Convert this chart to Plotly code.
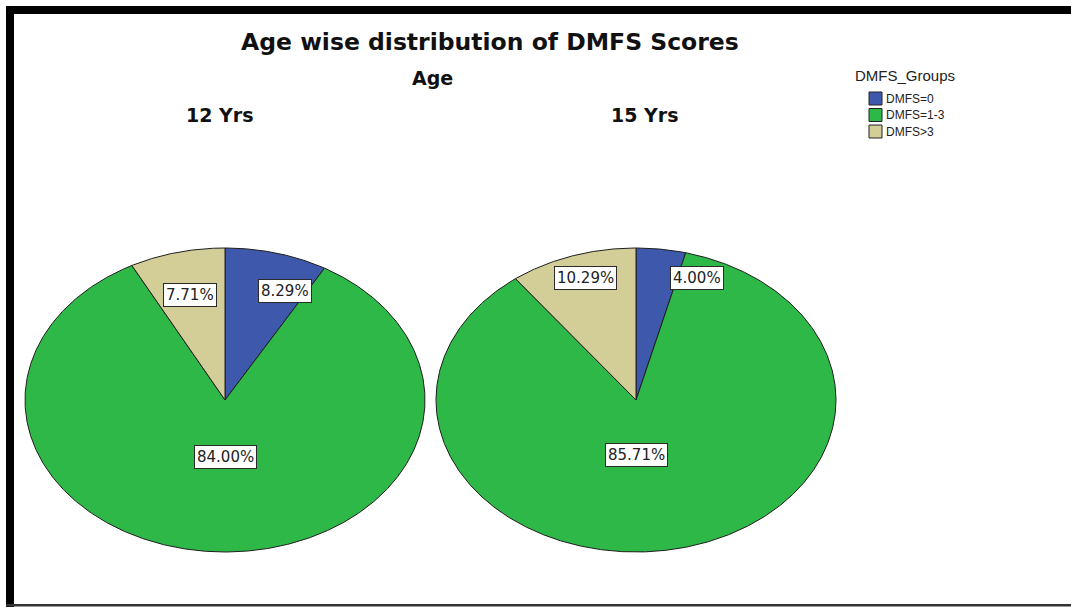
import numpy as np
import plotly.graph_objects as go

# ---- data ----
categories = ["DMFS=0", "DMFS=1-3", "DMFS>3"]
ages = ["12 Yrs", "15 Yrs"]
pct_12 = [8.29, 84.00, 7.71]
pct_15 = [4.00, 85.71, 10.29]
colors = ["#3E58AC", "#2EB848", "#D3CE97"]

# ---- layout (pixel-like coordinates) ----
W, H = 1071, 609
pie_centers = [(225, 400), (636, 400)]
RX, RY = 200, 152
header_dx = [-5, 9]
# label placement tweaks (angle shift in deg from mid-angle, radius fraction)
label_shift = [[7.8, -1.3, -0.3], [13.6, 10.6, 1.2]]
label_rad = [[0.777, 0.375, 0.71], [0.86, 0.36, 0.84]]

FONT = "Liberation Sans, Arial, sans-serif"
WIDE = "DejaVu Sans, Verdana, sans-serif"

fig = go.Figure()
annotations = []

def pt(cx, cy, ang, r=1.0):
    a = np.deg2rad(ang)
    return cx + r * RX * np.sin(a), cy - r * RY * np.cos(a)

for p, vals in enumerate([pct_12, pct_15]):
    cx, cy = pie_centers[p]
    total = sum(vals)
    start = 0.0
    for i, v in enumerate(vals):
        span = v / total * 360.0
        angs = np.linspace(start, start + span, max(int(span * 2), 4))
        xs, ys = pt(cx, cy, angs)
        fig.add_trace(go.Scatter(
            x=np.concatenate([[cx], xs, [cx]]),
            y=np.concatenate([[cy], ys, [cy]]),
            mode="lines", fill="toself", fillcolor=colors[i],
            line=dict(color="#1e1e1e", width=1),
            hoverinfo="skip", showlegend=False))
        mid = start + span / 2 + label_shift[p][i]
        lx, ly = pt(cx, cy, mid, label_rad[p][i])
        annotations.append(dict(
            x=lx, y=ly, xref="x", yref="y", text=f"{v:.2f}%", showarrow=False,
            font=dict(family=WIDE, size=15, color="#222"),
            bgcolor="white", bordercolor="#2a2a2a", borderwidth=1, borderpad=2))
        start += span
    annotations.append(dict(
        x=cx + header_dx[p], y=115, xref="x", yref="y", text=f"<b>{ages[p]}</b>", showarrow=False,
        font=dict(family=WIDE, size=19, color="#111")))

annotations.append(dict(x=490, y=42, xref="x", yref="y",
                        text="<b>Age wise distribution of DMFS Scores</b>", showarrow=False,
                        font=dict(family=WIDE, size=23.5, color="#111")))
annotations.append(dict(x=432, y=78, xref="x", yref="y", text="<b>Age</b>", showarrow=False,
                        font=dict(family=WIDE, size=19, color="#111")))

# legend (manual)
shapes = []
annotations.append(dict(x=905, y=75, xref="x", yref="y", text="DMFS_Groups", showarrow=False,
                        font=dict(family=FONT, size=15, color="#222")))
for i, c in enumerate(categories):
    y0 = 92 + i * 16.5
    shapes.append(dict(type="rect", xref="x", yref="y", x0=869, x1=882, y0=y0, y1=y0 + 13,
                       fillcolor=colors[i], line=dict(color="#222", width=1)))
    annotations.append(dict(x=884, y=y0 + 6.5, xref="x", yref="y", text=c, showarrow=False,
                            xanchor="left", font=dict(family=FONT, size=12, color="#222")))

# border frame
shapes += [
    dict(type="rect", xref="x", yref="y", x0=6, x1=W, y0=6, y1=14, fillcolor="black", line_width=0),
    dict(type="rect", xref="x", yref="y", x0=6, x1=14, y0=6, y1=607, fillcolor="black", line_width=0),
    dict(type="rect", xref="x", yref="y", x0=6, x1=W, y0=604, y1=606.5, fillcolor="#333", line_width=0),
]

fig.update_layout(
    width=W, height=H, margin=dict(l=0, r=0, t=0, b=0),
    paper_bgcolor="white", plot_bgcolor="white",
    xaxis=dict(range=[0, W], visible=False, fixedrange=True),
    yaxis=dict(range=[H, 0], visible=False, fixedrange=True),
    annotations=annotations, shapes=shapes, showlegend=False,
)
fig.write_html("out.html")
